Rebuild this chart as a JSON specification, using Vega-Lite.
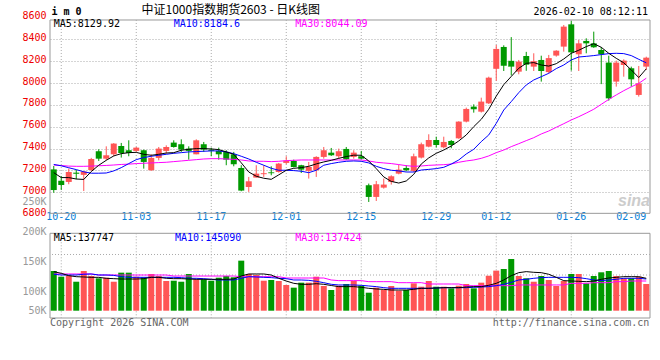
{
"$schema": "https://vega.github.io/schema/vega-lite/v6.json",
"autosize": {"type": "none"},
"width": 600, "height": 298,
"padding": {"left": 50, "top": 20, "right": 10, "bottom": 42},
"background": "#ffffff",
"config": {"view": {"stroke": null}, "font": "DejaVu Sans Mono", "axis": {"labelFont": "DejaVu Sans Mono", "labelFontSize": 10, "domain": false, "ticks": false, "tickSize": 0, "title": null, "labelOverlap": false}},
"data": {"values": [
{"d":"10-17","o":7210,"h":7241,"l":6996,"c":7021,"m5":7180,"m10":7255,"m30":7250,"v":137200,"vm5":136100,"vm10":131700,"vm30":132200},
{"d":"10-20","o":7106,"h":7149,"l":7021,"c":7067,"m5":7135,"m10":7243,"m30":7245,"v":127700,"vm5":133300,"vm10":130500,"vm30":132200},
{"d":"10-21","o":7095,"h":7217,"l":7074,"c":7186,"m5":7135,"m10":7225,"m30":7240,"v":129300,"vm5":129400,"vm10":130500,"vm30":132200},
{"d":"10-22","o":7180,"h":7205,"l":7120,"c":7170,"m5":7122,"m10":7208,"m30":7238,"v":119300,"vm5":127700,"vm10":130500,"vm30":132200},
{"d":"10-23","o":7160,"h":7195,"l":7012,"c":7190,"m5":7118,"m10":7188,"m30":7238,"v":137200,"vm5":127200,"vm10":131700,"vm30":132200},
{"d":"10-24","o":7204,"h":7315,"l":7195,"c":7305,"m5":7190,"m10":7175,"m30":7240,"v":128800,"vm5":126600,"vm10":132200,"vm30":132200},
{"d":"10-27","o":7376,"h":7394,"l":7287,"c":7308,"m5":7248,"m10":7175,"m30":7243,"v":125000,"vm5":126600,"vm10":130500,"vm30":130500},
{"d":"10-28","o":7308,"h":7421,"l":7293,"c":7339,"m5":7293,"m10":7177,"m30":7246,"v":126000,"vm5":125000,"vm10":130500,"vm30":130500},
{"d":"10-29","o":7348,"h":7450,"l":7330,"c":7446,"m5":7333,"m10":7196,"m30":7250,"v":119300,"vm5":124400,"vm10":129900,"vm30":130500},
{"d":"10-30","o":7424,"h":7452,"l":7318,"c":7360,"m5":7354,"m10":7226,"m30":7255,"v":134400,"vm5":123800,"vm10":127700,"vm30":130500},
{"d":"10-31","o":7385,"h":7476,"l":7330,"c":7360,"m5":7363,"m10":7263,"m30":7258,"v":134400,"vm5":123800,"vm10":126600,"vm30":130500},
{"d":"11-03","o":7379,"h":7415,"l":7370,"c":7409,"m5":7366,"m10":7299,"m30":7263,"v":127700,"vm5":123800,"vm10":126600,"vm30":130500},
{"d":"11-04","o":7385,"h":7391,"l":7217,"c":7278,"m5":7348,"m10":7318,"m30":7266,"v":126700,"vm5":124400,"vm10":126600,"vm30":130500},
{"d":"11-05","o":7202,"h":7348,"l":7196,"c":7315,"m5":7339,"m10":7330,"m30":7269,"v":132200,"vm5":126600,"vm10":126600,"vm30":130500},
{"d":"11-06","o":7315,"h":7415,"l":7293,"c":7400,"m5":7348,"m10":7339,"m30":7272,"v":128800,"vm5":126600,"vm10":126600,"vm30":130500},
{"d":"11-07","o":7379,"h":7430,"l":7354,"c":7415,"m5":7360,"m10":7348,"m30":7275,"v":120500,"vm5":125000,"vm10":126600,"vm30":130500},
{"d":"11-10","o":7455,"h":7476,"l":7409,"c":7415,"m5":7363,"m10":7357,"m30":7281,"v":121000,"vm5":124400,"vm10":126600,"vm30":128800},
{"d":"11-11","o":7440,"h":7485,"l":7370,"c":7391,"m5":7385,"m10":7363,"m30":7287,"v":119300,"vm5":124400,"vm10":126100,"vm30":128800},
{"d":"11-12","o":7400,"h":7421,"l":7299,"c":7379,"m5":7394,"m10":7370,"m30":7293,"v":132200,"vm5":123800,"vm10":125000,"vm30":128800},
{"d":"11-13","o":7348,"h":7485,"l":7348,"c":7476,"m5":7400,"m10":7373,"m30":7299,"v":123300,"vm5":123300,"vm10":125000,"vm30":128800},
{"d":"11-14","o":7440,"h":7461,"l":7370,"c":7391,"m5":7400,"m10":7376,"m30":7305,"v":123300,"vm5":123300,"vm10":124400,"vm30":128800},
{"d":"11-17","o":7390,"h":7409,"l":7330,"c":7380,"m5":7397,"m10":7379,"m30":7308,"v":121000,"vm5":123300,"vm10":123300,"vm30":128800},
{"d":"11-18","o":7379,"h":7409,"l":7299,"c":7348,"m5":7391,"m10":7379,"m30":7308,"v":126000,"vm5":123300,"vm10":122200,"vm30":128800},
{"d":"11-19","o":7370,"h":7385,"l":7248,"c":7299,"m5":7370,"m10":7370,"m30":7305,"v":128800,"vm5":123300,"vm10":122200,"vm30":128800},
{"d":"11-20","o":7348,"h":7370,"l":7238,"c":7257,"m5":7348,"m10":7354,"m30":7302,"v":126700,"vm5":123800,"vm10":122200,"vm30":128800},
{"d":"11-21","o":7223,"h":7248,"l":7010,"c":7016,"m5":7270,"m10":7330,"m30":7296,"v":154400,"vm5":128800,"vm10":125000,"vm30":127700},
{"d":"11-24","o":7049,"h":7141,"l":7004,"c":7101,"m5":7186,"m10":7305,"m30":7287,"v":132200,"vm5":132200,"vm10":127700,"vm30":127700},
{"d":"11-25","o":7135,"h":7248,"l":7135,"c":7171,"m5":7147,"m10":7275,"m30":7284,"v":130500,"vm5":132200,"vm10":127200,"vm30":127700},
{"d":"11-26","o":7166,"h":7248,"l":7141,"c":7175,"m5":7129,"m10":7248,"m30":7284,"v":121000,"vm5":132200,"vm10":126600,"vm30":127700},
{"d":"11-27","o":7183,"h":7238,"l":7156,"c":7175,"m5":7119,"m10":7220,"m30":7281,"v":122200,"vm5":130500,"vm10":126100,"vm30":127700},
{"d":"11-28","o":7186,"h":7269,"l":7180,"c":7263,"m5":7160,"m10":7202,"m30":7284,"v":120500,"vm5":125000,"vm10":125000,"vm30":127700},
{"d":"12-01","o":7269,"h":7330,"l":7257,"c":7290,"m5":7202,"m10":7202,"m30":7290,"v":113800,"vm5":120500,"vm10":124400,"vm30":125500},
{"d":"12-02","o":7287,"h":7299,"l":7228,"c":7232,"m5":7220,"m10":7199,"m30":7293,"v":109400,"vm5":116600,"vm10":122200,"vm30":125500},
{"d":"12-03","o":7248,"h":7252,"l":7177,"c":7208,"m5":7226,"m10":7193,"m30":7296,"v":117700,"vm5":115000,"vm10":122200,"vm30":125500},
{"d":"12-04","o":7196,"h":7278,"l":7126,"c":7232,"m5":7238,"m10":7180,"m30":7296,"v":117700,"vm5":115000,"vm10":121600,"vm30":125500},
{"d":"12-05","o":7202,"h":7330,"l":7141,"c":7324,"m5":7260,"m10":7202,"m30":7296,"v":127700,"vm5":116000,"vm10":120000,"vm30":125500},
{"d":"12-08","o":7324,"h":7415,"l":7308,"c":7385,"m5":7278,"m10":7248,"m30":7296,"v":112200,"vm5":115000,"vm10":117700,"vm30":125500},
{"d":"12-09","o":7363,"h":7406,"l":7333,"c":7339,"m5":7293,"m10":7263,"m30":7296,"v":105500,"vm5":113000,"vm10":115000,"vm30":122200},
{"d":"12-10","o":7330,"h":7400,"l":7308,"c":7376,"m5":7311,"m10":7275,"m30":7296,"v":112700,"vm5":111100,"vm10":113900,"vm30":121100},
{"d":"12-11","o":7397,"h":7415,"l":7298,"c":7302,"m5":7327,"m10":7284,"m30":7296,"v":115500,"vm5":111100,"vm10":113900,"vm30":121100},
{"d":"12-12","o":7324,"h":7385,"l":7308,"c":7363,"m5":7340,"m10":7287,"m30":7296,"v":120500,"vm5":111100,"vm10":113900,"vm30":121100},
{"d":"12-15","o":7330,"h":7379,"l":7299,"c":7308,"m5":7339,"m10":7284,"m30":7296,"v":112700,"vm5":110000,"vm10":113300,"vm30":121100},
{"d":"12-16","o":7065,"h":7080,"l":6912,"c":6958,"m5":7287,"m10":7269,"m30":7287,"v":101000,"vm5":108300,"vm10":112200,"vm30":119400},
{"d":"12-17","o":6958,"h":7104,"l":6921,"c":7074,"m5":7217,"m10":7238,"m30":7275,"v":109400,"vm5":107200,"vm10":111100,"vm30":119400},
{"d":"12-18","o":7043,"h":7126,"l":7034,"c":7071,"m5":7141,"m10":7217,"m30":7269,"v":105500,"vm5":106600,"vm10":109400,"vm30":119400},
{"d":"12-19","o":7095,"h":7156,"l":7071,"c":7147,"m5":7100,"m10":7202,"m30":7263,"v":112200,"vm5":105500,"vm10":108300,"vm30":119400},
{"d":"12-22","o":7171,"h":7254,"l":7165,"c":7208,"m5":7085,"m10":7196,"m30":7254,"v":104400,"vm5":105500,"vm10":108300,"vm30":117700},
{"d":"12-23","o":7223,"h":7248,"l":7193,"c":7202,"m5":7104,"m10":7186,"m30":7244,"v":105500,"vm5":105500,"vm10":108300,"vm30":117700},
{"d":"12-24","o":7196,"h":7354,"l":7186,"c":7330,"m5":7165,"m10":7186,"m30":7238,"v":116600,"vm5":106600,"vm10":108300,"vm30":117700},
{"d":"12-25","o":7318,"h":7455,"l":7310,"c":7440,"m5":7259,"m10":7204,"m30":7241,"v":111000,"vm5":108300,"vm10":108300,"vm30":117700},
{"d":"12-26","o":7418,"h":7531,"l":7412,"c":7479,"m5":7315,"m10":7210,"m30":7247,"v":120500,"vm5":108300,"vm10":108300,"vm30":115500},
{"d":"12-29","o":7479,"h":7509,"l":7409,"c":7433,"m5":7357,"m10":7217,"m30":7250,"v":111000,"vm5":108800,"vm10":108800,"vm30":115500},
{"d":"12-30","o":7412,"h":7509,"l":7403,"c":7461,"m5":7387,"m10":7229,"m30":7253,"v":111000,"vm5":109400,"vm10":109400,"vm30":115500},
{"d":"12-31","o":7470,"h":7479,"l":7403,"c":7433,"m5":7424,"m10":7259,"m30":7259,"v":108300,"vm5":109400,"vm10":109400,"vm30":115500},
{"d":"01-05","o":7494,"h":7650,"l":7490,"c":7647,"m5":7470,"m10":7296,"m30":7275,"v":112700,"vm5":109400,"vm10":109400,"vm30":115500},
{"d":"01-06","o":7647,"h":7775,"l":7640,"c":7763,"m5":7525,"m10":7351,"m30":7287,"v":115500,"vm5":110500,"vm10":109400,"vm30":112700},
{"d":"01-07","o":7784,"h":7805,"l":7729,"c":7760,"m5":7601,"m10":7394,"m30":7296,"v":108300,"vm5":111100,"vm10":110000,"vm30":112700},
{"d":"01-08","o":7738,"h":7866,"l":7730,"c":7830,"m5":7668,"m10":7464,"m30":7311,"v":117700,"vm5":111100,"vm10":110500,"vm30":112700},
{"d":"01-09","o":7814,"h":8058,"l":7808,"c":8049,"m5":7760,"m10":7525,"m30":7333,"v":129300,"vm5":113300,"vm10":111100,"vm30":112700},
{"d":"01-12","o":8130,"h":8348,"l":8020,"c":8312,"m5":7880,"m10":7631,"m30":7363,"v":137800,"vm5":116600,"vm10":112700,"vm30":112700},
{"d":"01-13","o":8330,"h":8345,"l":8110,"c":8158,"m5":7985,"m10":7753,"m30":7387,"v":140500,"vm5":122200,"vm10":115000,"vm30":112700},
{"d":"01-14","o":8203,"h":8420,"l":8070,"c":8150,"m5":8060,"m10":7830,"m30":7418,"v":157200,"vm5":129400,"vm10":118300,"vm30":112700},
{"d":"01-15","o":8104,"h":8211,"l":8080,"c":8196,"m5":8135,"m10":7912,"m30":7445,"v":128800,"vm5":134400,"vm10":122200,"vm30":113900},
{"d":"01-16","o":8247,"h":8285,"l":8112,"c":8168,"m5":8180,"m10":7982,"m30":7473,"v":125000,"vm5":136100,"vm10":123300,"vm30":113900},
{"d":"01-19","o":8150,"h":8272,"l":8110,"c":8200,"m5":8187,"m10":8028,"m30":7500,"v":119300,"vm5":135000,"vm10":125000,"vm30":113900},
{"d":"01-20","o":8211,"h":8250,"l":8013,"c":8110,"m5":8165,"m10":8058,"m30":7534,"v":128800,"vm5":134400,"vm10":126100,"vm30":113900},
{"d":"01-21","o":8100,"h":8257,"l":8089,"c":8228,"m5":8155,"m10":8089,"m30":7561,"v":122200,"vm5":131700,"vm10":126600,"vm30":113900},
{"d":"01-22","o":8251,"h":8300,"l":8241,"c":8296,"m5":8177,"m10":8132,"m30":7595,"v":112200,"vm5":126600,"vm10":126600,"vm30":113900},
{"d":"01-23","o":8333,"h":8531,"l":8287,"c":8516,"m5":8220,"m10":8165,"m30":7628,"v":120500,"vm5":121100,"vm10":126600,"vm30":113900},
{"d":"01-26","o":8537,"h":8568,"l":8113,"c":8281,"m5":8272,"m10":8211,"m30":7662,"v":132200,"vm5":120500,"vm10":126600,"vm30":116600},
{"d":"01-27","o":8263,"h":8394,"l":8110,"c":8363,"m5":8300,"m10":8238,"m30":7692,"v":132200,"vm5":120000,"vm10":126100,"vm30":116600},
{"d":"01-28","o":8385,"h":8409,"l":8272,"c":8363,"m5":8333,"m10":8244,"m30":7725,"v":116600,"vm5":119400,"vm10":124400,"vm30":116600},
{"d":"01-29","o":8363,"h":8470,"l":8322,"c":8327,"m5":8360,"m10":8251,"m30":7760,"v":128800,"vm5":120500,"vm10":122200,"vm30":117700},
{"d":"01-30","o":8302,"h":8330,"l":7990,"c":8263,"m5":8327,"m10":8260,"m30":7805,"v":135000,"vm5":123300,"vm10":121100,"vm30":117700},
{"d":"02-02","o":8187,"h":8250,"l":7839,"c":7860,"m5":8272,"m10":8269,"m30":7850,"v":137200,"vm5":125500,"vm10":122200,"vm30":117700},
{"d":"02-03","o":8013,"h":8205,"l":7967,"c":8187,"m5":8226,"m10":8272,"m30":7891,"v":128800,"vm5":126600,"vm10":123300,"vm30":119400},
{"d":"02-04","o":8165,"h":8217,"l":8058,"c":8205,"m5":8185,"m10":8269,"m30":7930,"v":125000,"vm5":127700,"vm10":125000,"vm30":119400},
{"d":"02-05","o":8135,"h":8150,"l":7967,"c":8034,"m5":8120,"m10":8251,"m30":7965,"v":125000,"vm5":127700,"vm10":125000,"vm30":120500},
{"d":"02-06","o":7891,"h":8156,"l":7876,"c":7997,"m5":8050,"m10":8217,"m30":7997,"v":127700,"vm5":127700,"vm10":125000,"vm30":120500},
{"d":"02-09","o":8150,"h":8241,"l":8119,"c":8232,"m5":8130,"m10":8185,"m30":8044,"v":115500,"vm5":125000,"vm10":123800,"vm30":120500}
]},
"layer": [
{"layer": [
  {"data": {"values": [{}]}, "mark": {"type": "rect", "filled": false, "stroke": "#999999", "strokeWidth": 1},
   "encoding": {"y": {"datum": 8576.6, "type": "quantitative",
       "scale": {"domain": [6800, 8600], "range": [194.2, -2.56], "zero": false, "nice": false},
       "axis": {"orient": "left", "values": [6800, 7000, 7200, 7400, 7600, 7800, 8000, 8200, 8400, 8600], "tickCount": 20, "format": "d", "labelColor": "#ee0000", "labelPadding": 4, "labelOffset": -2, "labelOverlap": false, "labelSeparation": 0, "grid": true, "gridColor": "#aaaaaa", "gridDash": [1, 2], "gridOpacity": {"condition": {"test": "datum.value == 8600 || datum.value == 6800", "value": 0}, "value": 1}, "domain": false, "ticks": false, "tickSize": 0, "title": null}},
     "y2": {"datum": 6807.9}}},
  {"transform": [{"filter": {"field": "d", "oneOf": ["10-20", "11-03", "11-17", "12-01", "12-15", "12-29", "01-12", "01-26"]}}],
   "mark": {"type": "rule", "color": "#aaaaaa", "strokeDash": [1, 2]},
   "encoding": {"x": {"field": "d", "type": "ordinal"}, "y": {"datum": 8576.6, "type": "quantitative"}, "y2": {"datum": 6807.9}}},
  {"mark": {"type": "rule", "strokeWidth": 1},
   "encoding": {
     "x": {"field": "d", "type": "ordinal",
       "scale": {"type": "band", "paddingInner": 0, "paddingOuter": 0, "domain": ["10-17","10-20","10-21","10-22","10-23","10-24","10-27","10-28","10-29","10-30","10-31","11-03","11-04","11-05","11-06","11-07","11-10","11-11","11-12","11-13","11-14","11-17","11-18","11-19","11-20","11-21","11-24","11-25","11-26","11-27","11-28","12-01","12-02","12-03","12-04","12-05","12-08","12-09","12-10","12-11","12-12","12-15","12-16","12-17","12-18","12-19","12-22","12-23","12-24","12-25","12-26","12-29","12-30","12-31","01-05","01-06","01-07","01-08","01-09","01-12","01-13","01-14","01-15","01-16","01-19","01-20","01-21","01-22","01-23","01-26","01-27","01-28","01-29","01-30","02-02","02-03","02-04","02-05","02-06","02-09"]},
       "axis": {"orient": "bottom", "offset": -104.7, "values": ["10-20", "11-03", "11-17", "12-01", "12-15", "12-29", "01-12", "01-26", "02-09"], "labelColor": "#0a7fd6", "labelPadding": 3, "labelFlush": false, "labelOverlap": false, "labelAlign": {"condition": {"test": "datum.label == '02-09'", "value": "right"}, "value": "center"}, "labelAngle": 0, "grid": false, "domain": false, "ticks": false, "tickSize": 0, "title": null}},
     "y": {"field": "l", "type": "quantitative"}, "y2": {"field": "h"},
     "color": {"condition": {"test": "datum.c >= datum.o", "value": "#ff5555"}, "value": "#009900"}}},
  {"mark": {"type": "bar", "size": 6},
   "encoding": {"x": {"field": "d", "type": "ordinal"}, "y": {"field": "o", "type": "quantitative"}, "y2": {"field": "c"},
     "color": {"condition": {"test": "datum.c >= datum.o", "value": "#ff5555"}, "value": "#009900"}}},
  {"mark": {"type": "line", "color": "#ff00ff", "strokeWidth": 1},
   "encoding": {"x": {"field": "d", "type": "ordinal"}, "y": {"field": "m30", "type": "quantitative"}}},
  {"mark": {"type": "line", "color": "#0000ff", "strokeWidth": 1},
   "encoding": {"x": {"field": "d", "type": "ordinal"}, "y": {"field": "m10", "type": "quantitative"}}},
  {"mark": {"type": "line", "color": "#000000", "strokeWidth": 1},
   "encoding": {"x": {"field": "d", "type": "ordinal"}, "y": {"field": "m5", "type": "quantitative"}}},
  {"data": {"values": [{}]}, "mark": {"type": "text", "align": "left", "baseline": "alphabetic", "font": "DejaVu Sans Mono", "fontSize": 10, "color": "#000000"},
   "encoding": {"x": {"datum": "10-17", "type": "ordinal", "bandPosition": 0.5}, "y": {"datum": 8509.8, "type": "quantitative"}, "text": {"value": "MA5:8129.92"}}},
  {"data": {"values": [{}]}, "mark": {"type": "text", "align": "left", "baseline": "alphabetic", "font": "DejaVu Sans Mono", "fontSize": 10, "color": "#0000ff"},
   "encoding": {"x": {"datum": "11-10", "type": "ordinal", "bandPosition": 0.5}, "y": {"datum": 8509.8, "type": "quantitative"}, "text": {"value": "MA10:8184.6"}}},
  {"data": {"values": [{}]}, "mark": {"type": "text", "align": "left", "baseline": "alphabetic", "font": "DejaVu Sans Mono", "fontSize": 10, "color": "#ff00ff"},
   "encoding": {"x": {"datum": "12-02", "type": "ordinal", "bandPosition": 0.7}, "y": {"datum": 8509.8, "type": "quantitative"}, "text": {"value": "MA30:8044.09"}}},
  {"data": {"values": [{}]}, "mark": {"type": "text", "align": "left", "baseline": "alphabetic", "font": "DejaVu Sans Mono", "fontSize": 10, "fontWeight": "bold", "color": "#000000"},
   "encoding": {"x": {"datum": "10-17", "type": "ordinal", "bandPosition": 0.2}, "y": {"datum": 8622, "type": "quantitative"}, "text": {"value": "i m 0"}}},
  {"data": {"values": [{}]}, "mark": {"type": "text", "align": "left", "baseline": "alphabetic", "font": "Noto Sans CJK SC", "fontSize": 12, "color": "#000000"},
   "encoding": {"x": {"datum": "11-04", "type": "ordinal", "bandPosition": 0.2}, "y": {"datum": 8630, "type": "quantitative"}, "text": {"value": "中证1000指数期货2603 - 日K线图"}}},
  {"data": {"values": [{}]}, "mark": {"type": "text", "align": "right", "baseline": "alphabetic", "font": "DejaVu Sans Mono", "fontSize": 10, "color": "#000000"},
   "encoding": {"x": {"datum": "02-09", "type": "ordinal", "bandPosition": 0.73}, "y": {"datum": 8622, "type": "quantitative"}, "text": {"value": "2026-02-10 08:12:11"}}},
  {"data": {"values": [{}]}, "mark": {"type": "text", "align": "right", "baseline": "alphabetic", "font": "Liberation Sans", "fontSize": 16, "fontStyle": "italic", "fontWeight": "bold", "color": "#cccccc"},
   "encoding": {"x": {"datum": "02-09", "type": "ordinal", "bandPosition": 1}, "y": {"datum": 6875, "type": "quantitative"}, "text": {"value": "sina"}}}
]},
{"layer": [
  {"data": {"values": [{}]}, "mark": {"type": "rect", "filled": false, "stroke": "#999999", "strokeWidth": 1},
   "encoding": {"y": {"datum": 200000, "type": "quantitative",
       "scale": {"domain": [50000, 260000], "range": [303.3, 177.3], "zero": false, "nice": false},
       "axis": {"orient": "left", "values": [68333, 100000, 150000, 200000, 250000], "tickCount": 20, "labelExpr": "datum.value < 90000 ? '50K' : (datum.value / 1000) + 'K'", "labelColor": "#999999", "labelPadding": 4, "labelOffset": -2.3, "labelOverlap": false, "labelSeparation": 0, "grid": false, "domain": false, "ticks": false, "tickSize": 0, "title": null}},
     "y2": {"datum": 58833}}},
  {"data": {"values": [{}]}, "mark": {"type": "rule", "color": "#aaaaaa", "strokeDash": [1, 2]}, "encoding": {"y": {"datum": 164667, "type": "quantitative"}}},
  {"data": {"values": [{}]}, "mark": {"type": "rule", "color": "#aaaaaa", "strokeDash": [1, 2]}, "encoding": {"y": {"datum": 130500, "type": "quantitative"}}},
  {"data": {"values": [{}]}, "mark": {"type": "rule", "color": "#aaaaaa", "strokeDash": [1, 2]}, "encoding": {"y": {"datum": 96333, "type": "quantitative"}}},
  {"transform": [{"filter": {"field": "d", "oneOf": ["10-20", "11-03", "11-17", "12-01", "12-15", "12-29", "01-12", "01-26"]}}],
   "mark": {"type": "rule", "color": "#aaaaaa", "strokeDash": [1, 2]},
   "encoding": {"x": {"field": "d", "type": "ordinal"}, "y": {"datum": 200000, "type": "quantitative"}, "y2": {"datum": 58833}}},
  {"mark": {"type": "bar", "size": 6},
   "encoding": {"x": {"field": "d", "type": "ordinal"}, "y": {"field": "v", "type": "quantitative"}, "y2": {"datum": 71000},
     "color": {"condition": {"test": "datum.c >= datum.o", "value": "#ff5555"}, "value": "#009900"}}},
  {"mark": {"type": "line", "color": "#ff00ff", "strokeWidth": 1},
   "encoding": {"x": {"field": "d", "type": "ordinal"}, "y": {"field": "vm30", "type": "quantitative"}}},
  {"mark": {"type": "line", "color": "#0000ff", "strokeWidth": 1},
   "encoding": {"x": {"field": "d", "type": "ordinal"}, "y": {"field": "vm10", "type": "quantitative"}}},
  {"mark": {"type": "line", "color": "#000000", "strokeWidth": 1},
   "encoding": {"x": {"field": "d", "type": "ordinal"}, "y": {"field": "vm5", "type": "quantitative"}}},
  {"data": {"values": [{}]}, "mark": {"type": "text", "align": "left", "baseline": "alphabetic", "font": "DejaVu Sans Mono", "fontSize": 10, "color": "#000000"},
   "encoding": {"x": {"datum": "10-17", "type": "ordinal", "bandPosition": 0.5}, "y": {"datum": 187167, "type": "quantitative"}, "text": {"value": "MA5:137747"}}},
  {"data": {"values": [{}]}, "mark": {"type": "text", "align": "left", "baseline": "alphabetic", "font": "DejaVu Sans Mono", "fontSize": 10, "color": "#0000ff"},
   "encoding": {"x": {"datum": "11-10", "type": "ordinal", "bandPosition": 0.67}, "y": {"datum": 187167, "type": "quantitative"}, "text": {"value": "MA10:145090"}}},
  {"data": {"values": [{}]}, "mark": {"type": "text", "align": "left", "baseline": "alphabetic", "font": "DejaVu Sans Mono", "fontSize": 10, "color": "#ff00ff"},
   "encoding": {"x": {"datum": "12-02", "type": "ordinal", "bandPosition": 0.7}, "y": {"datum": 187167, "type": "quantitative"}, "text": {"value": "MA30:137424"}}},
  {"data": {"values": [{}]}, "mark": {"type": "text", "align": "left", "baseline": "alphabetic", "font": "DejaVu Sans Mono", "fontSize": 10, "color": "#666666"},
   "encoding": {"x": {"datum": "10-17", "type": "ordinal", "bandPosition": 0}, "y": {"datum": 45500, "type": "quantitative"}, "text": {"value": "Copyright 2026 SINA.COM"}}},
  {"data": {"values": [{}]}, "mark": {"type": "text", "align": "right", "baseline": "alphabetic", "font": "DejaVu Sans Mono", "fontSize": 10, "color": "#666666"},
   "encoding": {"x": {"datum": "02-09", "type": "ordinal", "bandPosition": 0.9}, "y": {"datum": 45500, "type": "quantitative"}, "text": {"value": "http://finance.sina.com.cn"}}}
]}
],
"resolve": {"scale": {"y": "independent"}, "axis": {"y": "independent"}}
}
